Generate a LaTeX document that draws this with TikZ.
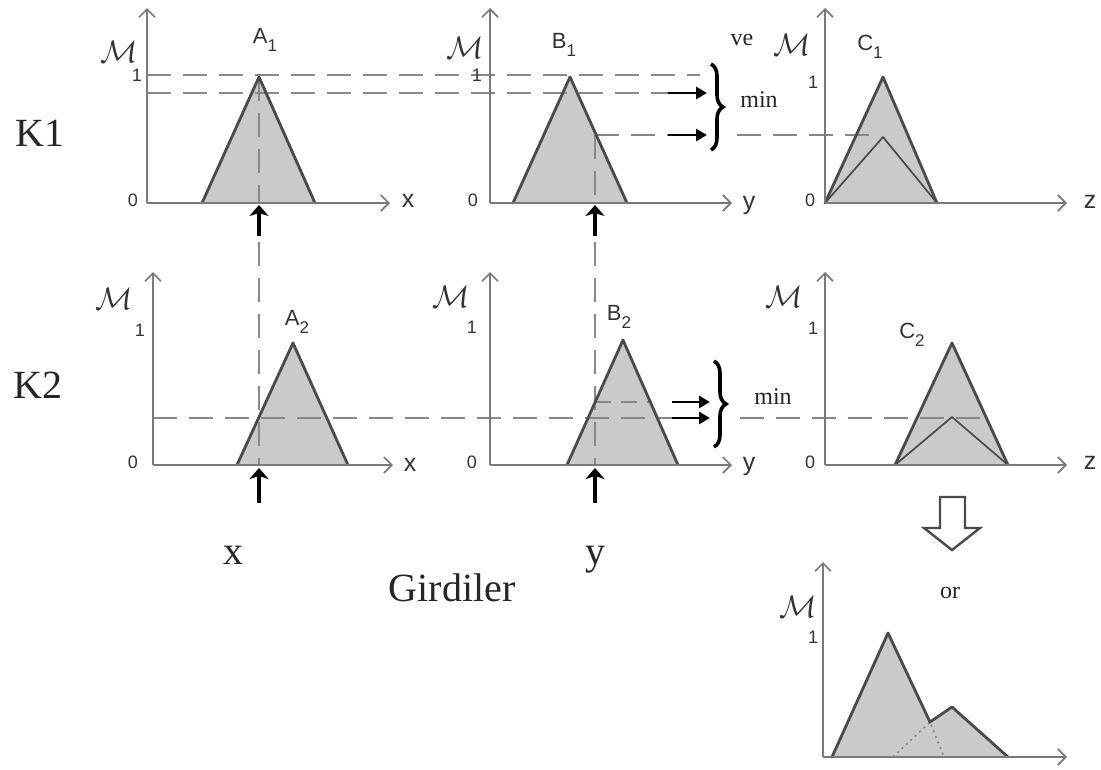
\documentclass[tikz,border=0pt]{standalone}
\usepackage{fontspec}
\setmainfont{Liberation Serif}
\newfontfamily\labfont{Liberation Sans}
\usetikzlibrary{arrows.meta,decorations.pathreplacing}
\definecolor{axisgray}{HTML}{7A7A7A}
\definecolor{mfline}{HTML}{4A4A4A}
\definecolor{mffill}{HTML}{CACACA}
\definecolor{guidegray}{HTML}{888888}
\definecolor{labgray}{HTML}{333333}
\newcommand{\mfname}[2]{#1\raisebox{-0.35em}{\fontsize{17}{17}\selectfont #2}}
\newcommand{\memb}{\scalebox{1.25}{$\mathcal{M}$}}
\begin{document}
\begin{tikzpicture}[x=1pt,y=-1pt,
 axis/.style={draw=axisgray,line width=1.9pt,-{Straight Barb[length=8pt,width=16pt,line width=1.7pt]}},
 mfedge/.style={draw=mfline,line width=2.8pt,line join=round,line cap=round},
 mfclip/.style={draw=mfline,line width=1.7pt,line join=round},
 guide/.style={draw=guidegray,line width=2pt,dash pattern=on 24pt off 12pt},
 dotguide/.style={draw=guidegray,line width=1.6pt,dash pattern=on 2pt off 4pt},
 inarrow/.style={draw=black,line width=3.6pt,-{Stealth[length=11pt,width=19pt,inset=3pt]}},
 rarrow/.style={draw=black,line width=2.8pt,-{Triangle[length=11pt,width=12pt]}},
 bracedeco/.style={draw=black,line width=3.6pt,decorate,decoration={brace,amplitude=12pt}},
 mlab/.style={text=labgray,font=\fontsize{24}{26}\selectfont,inner sep=0pt},
 numlab/.style={text=labgray,font=\labfont\fontsize{18}{19}\selectfont,inner sep=0pt},
 axlab/.style={text=labgray,font=\labfont\fontsize{25}{27}\selectfont,inner sep=0pt},
 setlab/.style={text=labgray,font=\labfont\fontsize{22}{24}\selectfont,inner sep=0pt},
 bigtxt/.style={text=black!85,font=\fontsize{40}{44}\selectfont,inner sep=0pt},
 smalltxt/.style={text=black!85,font=\fontsize{24}{26}\selectfont,inner sep=0pt},
 hollow/.style={draw=mfline,line width=2.4pt,fill=white,line join=miter}
]
\useasboundingbox (0,0) rectangle (1101,769);

% ---------------- coordinates ----------------
% panel A1
\coordinate (a1o) at (147,203); \coordinate (a1t) at (147,8); \coordinate (a1e) at (390,203);
\coordinate (a1l) at (202,203); \coordinate (a1p) at (259,77); \coordinate (a1r) at (315,203);
% panel B1
\coordinate (b1o) at (490,203); \coordinate (b1t) at (490,8); \coordinate (b1e) at (732,203);
\coordinate (b1l) at (513,203); \coordinate (b1p) at (570,77); \coordinate (b1r) at (627,203);
% panel C1
\coordinate (c1o) at (825,203); \coordinate (c1t) at (825,8); \coordinate (c1e) at (1067,203);
\coordinate (c1l) at (825,203); \coordinate (c1p) at (883,77); \coordinate (c1r) at (937,203);
\coordinate (c1q) at (883,137);
% panel A2
\coordinate (a2o) at (153,465); \coordinate (a2t) at (153,272); \coordinate (a2e) at (393,465);
\coordinate (a2l) at (237,465); \coordinate (a2p) at (293,343); \coordinate (a2r) at (348,465);
% panel B2
\coordinate (b2o) at (490,465); \coordinate (b2t) at (490,272); \coordinate (b2e) at (732,465);
\coordinate (b2l) at (567,465); \coordinate (b2p) at (623,340); \coordinate (b2r) at (678,465);
% panel C2
\coordinate (c2o) at (825,465); \coordinate (c2t) at (825,272); \coordinate (c2e) at (1067,465);
\coordinate (c2l) at (895,465); \coordinate (c2p) at (952,343); \coordinate (c2r) at (1008,465);
\coordinate (c2q) at (952,417);
% panel out
\coordinate (doo) at (823,757); \coordinate (dot) at (823,562); \coordinate (doe) at (1067,757);
\coordinate (d1) at (832,757); \coordinate (d2) at (888,633); \coordinate (d3) at (930,722);
\coordinate (d4) at (952,707); \coordinate (d5) at (1008,757);
\coordinate (dd1) at (893,757); \coordinate (dd2) at (944,757);

% ---------------- membership fills ----------------
\fill[mffill] (a1l) -- (a1p) -- (a1r) -- cycle;
\fill[mffill] (b1l) -- (b1p) -- (b1r) -- cycle;
\fill[mffill] (c1l) -- (c1p) -- (c1r) -- cycle;
\fill[mffill] (a2l) -- (a2p) -- (a2r) -- cycle;
\fill[mffill] (b2l) -- (b2p) -- (b2r) -- cycle;
\fill[mffill] (c2l) -- (c2p) -- (c2r) -- cycle;
\fill[mffill] (d1) -- (d2) -- (d3) -- (d4) -- (d5) -- cycle;

% ---------------- guide lines ----------------
\coordinate (g1s) at (147,75);  \coordinate (g1e) at (700,75);
\coordinate (g2s) at (147,93);  \coordinate (g2e) at (668,93);  \coordinate (g2a) at (707,93);
\coordinate (g3s) at (595,135); \coordinate (g3e) at (668,135); \coordinate (g3a) at (707,135);
\coordinate (g3c) at (737,135); \coordinate (g3d) at (877,135);
\draw[guide] (g1s) -- (g1e);
\draw[guide] (g2s) -- (g2e);
\draw[guide] (g3s) -- (g3e);
\draw[guide] (g3c) -- (g3d);
\coordinate (v1s) at (259,77);  \coordinate (v1e) at (259,203);
\coordinate (v1c) at (259,242); \coordinate (v1d) at (259,465);
\draw[guide] (v1s) -- (v1e);
\draw[guide] (v1c) -- (v1d);
\coordinate (v2s) at (595,135); \coordinate (v2e) at (595,203);
\coordinate (v2c) at (595,242); \coordinate (v2d) at (595,465);
\draw[guide] (v2s) -- (v2e);
\draw[guide] (v2c) -- (v2d);
\coordinate (h1s) at (153,418); \coordinate (h1e) at (672,418); \coordinate (h1a) at (710,418);
\coordinate (h1c) at (740,418); \coordinate (h1d) at (987,418);
\coordinate (h2s) at (595,402); \coordinate (h2e) at (652,402);
\coordinate (h2b) at (672,402); \coordinate (h2a) at (710,402);
\draw[guide] (h1s) -- (h1e);
\draw[guide] (h1c) -- (h1d);
\draw[guide,dash pattern=on 16pt off 10pt] (h2s) -- (h2e);
\draw[dotguide] (dd1) -- (d3) -- (dd2);

% ---------------- membership edges ----------------
\draw[mfedge] (a1l) -- (a1p) -- (a1r);
\draw[mfedge] (b1l) -- (b1p) -- (b1r);
\draw[mfedge] (c1l) -- (c1p) -- (c1r);
\draw[mfclip] (c1l) -- (c1q) -- (c1r);
\draw[mfedge] (a2l) -- (a2p) -- (a2r);
\draw[mfedge] (b2l) -- (b2p) -- (b2r);
\draw[mfedge] (c2l) -- (c2p) -- (c2r);
\draw[mfclip] (c2l) -- (c2q) -- (c2r);
\draw[mfedge] (d1) -- (d2) -- (d3) -- (d4) -- (d5);

% ---------------- axes ----------------
\draw[axis] (a1o) -- (a1t); \draw[axis] (a1o) -- (a1e);
\draw[axis] (b1o) -- (b1t); \draw[axis] (b1o) -- (b1e);
\draw[axis] (c1o) -- (c1t); \draw[axis] (c1o) -- (c1e);
\draw[axis] (a2o) -- (a2t); \draw[axis] (a2o) -- (a2e);
\draw[axis] (b2o) -- (b2t); \draw[axis] (b2o) -- (b2e);
\draw[axis] (c2o) -- (c2t); \draw[axis] (c2o) -- (c2e);
\draw[axis] (doo) -- (dot); \draw[axis] (doo) -- (doe);

% ---------------- arrows ----------------
\coordinate (ia1s) at (259,236); \coordinate (ia1e) at (259,205);
\coordinate (ib1s) at (595,236); \coordinate (ib1e) at (595,205);
\coordinate (ia2s) at (259,503); \coordinate (ia2e) at (259,468);
\coordinate (ib2s) at (595,503); \coordinate (ib2e) at (595,468);
\draw[inarrow] (ia1s) -- (ia1e);
\draw[inarrow] (ib1s) -- (ib1e);
\draw[inarrow] (ia2s) -- (ia2e);
\draw[inarrow] (ib2s) -- (ib2e);
\draw[rarrow] (g2e) -- (g2a);
\draw[rarrow] (g3e) -- (g3a);
\draw[rarrow] (h1e) -- (h1a);
\draw[rarrow] (h2b) -- (h2a);

% ---------------- braces ----------------
\coordinate (br1t) at (711,64); \coordinate (br1b) at (711,150);
\coordinate (br2t) at (714,361); \coordinate (br2b) at (714,447);
\draw[bracedeco] (br1t) -- (br1b);
\draw[bracedeco] (br2t) -- (br2b);

% ---------------- hollow arrow ----------------
\draw[hollow] (940,497) -- (965,497) -- (965,528) -- (980,528) -- (952,550) -- (924,528) -- (940,528) -- cycle;

% ---------------- labels ----------------
\node[bigtxt] (k1) at (40,133) {K1};
\node[bigtxt] (k2) at (38,385) {K2};
\node[bigtxt] (inx) at (233,555) {x};
\node[bigtxt] (iny) at (595,560) {y};
\node[bigtxt] (gird) at (452,588) {Girdiler};
\node[smalltxt] (ve) at (742,40) {ve};
\node[smalltxt] (min1) at (759,100) {min};
\node[smalltxt] (min2) at (773,397) {min};
\node[smalltxt] (ortxt) at (950,593) {or};

\node[mlab] (ma1) at (119,52) {\memb};
\node[numlab] (one1) at (137,75) {1};
\node[numlab] (zero1) at (133,200) {0};
\node[axlab] (xa1) at (408,201) {x};
\node[setlab] (na1) at (265,40) {\mfname{A}{1}};

\node[mlab] (mb1) at (465,48) {\memb};
\node[numlab] (one2) at (477,75) {1};
\node[numlab] (zero2) at (473,200) {0};
\node[axlab] (ya1) at (749,205) {y};
\node[setlab] (nb1) at (564,45) {\mfname{B}{1}};

\node[mlab] (mc1) at (792,45) {\memb};
\node[numlab] (one3) at (813,82) {1};
\node[numlab] (zero3) at (810,200) {0};
\node[axlab] (za1) at (1090,202) {z};
\node[setlab] (nc1) at (870,47) {\mfname{C}{1}};

\node[mlab] (ma2) at (114,299) {\memb};
\node[numlab] (one4) at (140,330) {1};
\node[numlab] (zero4) at (133,462) {0};
\node[axlab] (xa2) at (410,465) {x};
\node[setlab] (na2) at (297,322) {\mfname{A}{2}};

\node[mlab] (mb2) at (451,297) {\memb};
\node[numlab] (one5) at (472,327) {1};
\node[numlab] (zero5) at (472,462) {0};
\node[axlab] (ya2) at (749,466) {y};
\node[setlab] (nb2) at (619,317) {\mfname{B}{2}};

\node[mlab] (mc2) at (784,297) {\memb};
\node[numlab] (one6) at (813,328) {1};
\node[numlab] (zero6) at (810,462) {0};
\node[axlab] (za2) at (1090,463) {z};
\node[setlab] (nc2) at (912,335) {\mfname{C}{2}};

\node[mlab] (mo) at (798,607) {\memb};
\node[numlab] (one7) at (813,637) {1};
\end{tikzpicture}
\end{document}
